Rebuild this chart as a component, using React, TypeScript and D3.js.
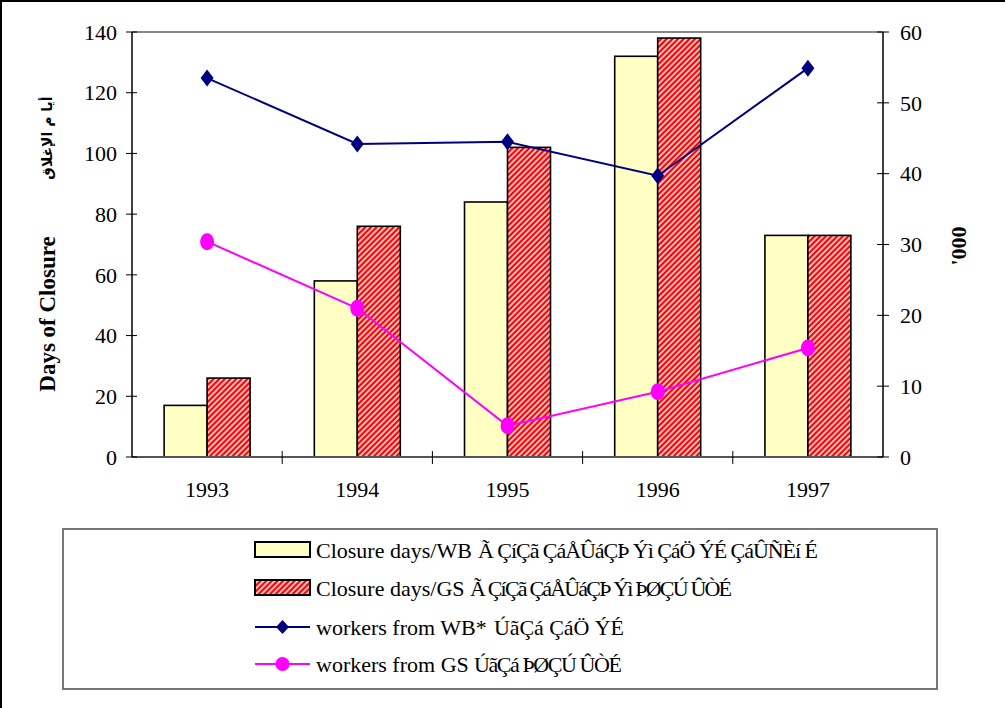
import React from "react";
import * as d3 from "d3";

const years = ["1993", "1994", "1995", "1996", "1997"];
const closureWB = [17, 58, 84, 132, 73];
const closureGS = [26, 76, 102, 138, 73];
const workersWB = [53.5, 44.2, 44.5, 39.7, 54.9];
const workersGS = [30.4, 21.0, 4.4, 9.2, 15.4];
const leftTicks = [0, 20, 40, 60, 80, 100, 120, 140];
const rightTicks = [0, 10, 20, 30, 40, 50, 60];

const legendEnglish = [
  "Closure days/WB",
  "Closure days/GS",
  "workers from WB*",
  "workers from GS",
];
const legendMojibake = [
  "Ã ÇíÇã ÇáÅÛáÇÞ Ýì  ÇáÖ ÝÉ ÇáÛÑÈí É",
  "Ã ÇíÇã ÇáÅÛáÇÞ Ýì  ÞØÇÚ ÛÒÉ",
  "ÚãÇá ÇáÖ ÝÉ",
  "ÚãÇá ÞØÇÚ ÛÒÉ",
];

const W = 1005;
const H = 708;
const L = 132;
const R = 883;
const T = 32;
const B = 457;
const serif = "'Liberation Serif', 'Times New Roman', serif";

export default function App() {
  const x = d3.scaleBand<string>().domain(years).range([L, R]);
  const x1 = d3
    .scaleBand<string>()
    .domain(["WB", "GS"])
    .range([0, x.bandwidth()])
    .paddingInner(0)
    .paddingOuter(0.747);
  const yL = d3.scaleLinear().domain([0, 140]).range([B, T]);
  const yR = d3.scaleLinear().domain([0, 60]).range([B, T]);
  const cx = (y: string) => (x(y) as number) + x.bandwidth() / 2;

  const lineGen = d3
    .line<number>()
    .x((_, i) => cx(years[i]))
    .y((d) => yR(d));

  const diamond = (px: number, py: number, w = 6.5, h = 8.5) =>
    `M${px},${py - h}L${px + w},${py}L${px},${py + h}L${px - w},${py}Z`;

  const legendRows = [550, 588, 627, 664];
  const mojX = [478, 470, 494, 474];
  const mojEnd = [818, 732, 624, 622];

  return (
    <div style={{ position: "absolute", left: 0, top: 0, width: W, height: H, overflow: "hidden", background: "#fff" }}>
      <svg width={W} height={H} style={{ display: "block" }}>
        <defs>
          <pattern id="hatch" patternUnits="userSpaceOnUse" width="4" height="4" patternTransform="rotate(45)">
            <rect x="0" y="0" width="4" height="4" fill="#FF0000" />
            <line x1="1" y1="-1" x2="1" y2="5" stroke="#FFFFFF" strokeWidth="1.5" />
          </pattern>
        </defs>
        <rect x={1} y={1} width={W + 10} height={H + 10} fill="#fff" stroke="#000" strokeWidth={2} />

        {/* plot top border */}
        <line x1={L} y1={T} x2={R} y2={T} stroke="#888" strokeWidth={2} />

        {/* bars */}
        {years.map((yr, i) => (
          <g key={yr}>
            <rect
              x={(x(yr) as number) + (x1("WB") as number)}
              y={yL(closureWB[i])}
              width={x1.bandwidth()}
              height={B - yL(closureWB[i])}
              fill="#FFFFC4"
              stroke="#000"
              strokeWidth={1.6}
            />
            <rect
              x={(x(yr) as number) + (x1("GS") as number)}
              y={yL(closureGS[i])}
              width={x1.bandwidth()}
              height={B - yL(closureGS[i])}
              fill="url(#hatch)"
              stroke="#000"
              strokeWidth={1.6}
            />
          </g>
        ))}

        {/* x axis */}
        <line x1={L} y1={B} x2={R} y2={B} stroke="#555" strokeWidth={2} />
        {years.slice(1).map((yr) => (
          <line key={yr} x1={x(yr) as number} y1={B - 6} x2={x(yr) as number} y2={B + 7} stroke="#000" strokeWidth={1} />
        ))}
        {years.map((yr) => (
          <text key={yr} x={cx(yr)} y={497} textAnchor="middle" fontFamily={serif} fontSize={22}>
            {yr}
          </text>
        ))}

        {/* left axis */}
        <line x1={L} y1={T} x2={L} y2={B} stroke="#000" strokeWidth={1.5} />
        {leftTicks.map((t) => (
          <g key={t}>
            <line x1={L - 6} y1={yL(t)} x2={L + 5} y2={yL(t)} stroke="#000" strokeWidth={1} />
            <text x={117} y={yL(t)} dy="0.35em" textAnchor="end" fontFamily={serif} fontSize={22}>
              {t}
            </text>
          </g>
        ))}

        {/* right axis */}
        <line x1={R} y1={T} x2={R} y2={B} stroke="#000" strokeWidth={1.5} />
        {rightTicks.map((t) => (
          <g key={t}>
            <line x1={R - 6} y1={yR(t)} x2={R + 6} y2={yR(t)} stroke="#000" strokeWidth={1} />
            <text x={900} y={yR(t)} dy="0.35em" textAnchor="start" fontFamily={serif} fontSize={22}>
              {t}
            </text>
          </g>
        ))}

        {/* axis titles */}
        <text
          transform={`translate(47,314) rotate(-90)`}
          textAnchor="middle"
          dominantBaseline="central"
          fontFamily={serif}
          fontWeight="bold"
          fontSize={23}
        >
          Days of Closure
        </text>
        <text
          transform={`translate(47,138) rotate(-90)`}
          textAnchor="middle"
          dominantBaseline="central"
          fontFamily="'DejaVu Sans', sans-serif"
          fontWeight="bold"
          fontSize={14}
        >
          أيا م الإغلاق
        </text>
        <text
          transform={`translate(958,246) rotate(-90)`}
          textAnchor="middle"
          dominantBaseline="central"
          fontFamily={serif}
          fontWeight="bold"
          fontSize={22}
        >
          '000
        </text>

        {/* lines */}
        <path d={lineGen(workersWB) || ""} fill="none" stroke="#000080" strokeWidth={2} />
        {workersWB.map((v, i) => (
          <path key={i} d={diamond(cx(years[i]), yR(v))} fill="#000080" />
        ))}
        <path d={lineGen(workersGS) || ""} fill="none" stroke="#FF00FF" strokeWidth={2} />
        {workersGS.map((v, i) => (
          <ellipse key={i} cx={cx(years[i])} cy={yR(v)} rx={7} ry={8.5} fill="#FF00FF" />
        ))}

        {/* legend */}
        <rect x={63} y={529} width={874} height={160} fill="#fff" stroke="#777" strokeWidth={2} />
        <rect x={255} y={542} width={55} height={15} fill="#FFFFC4" stroke="#000" strokeWidth={2} />
        <rect x={255} y={580} width={55} height={15} fill="url(#hatch)" stroke="#000" strokeWidth={2} />
        <line x1={255} y1={627} x2={310} y2={627} stroke="#000080" strokeWidth={2} />
        <path d={diamond(282.5, 627, 6.5, 7)} fill="#000080" />
        <line x1={255} y1={664} x2={310} y2={664} stroke="#FF00FF" strokeWidth={2} />
        <circle cx={282.5} cy={664} r={7} fill="#FF00FF" />
        {legendEnglish.map((t, i) => (
          <g key={i}>
            <text x={316} y={legendRows[i] + 7.5} fontFamily={serif} fontSize={22}>
              {t}
            </text>
            <text
              x={mojX[i]}
              y={legendRows[i] + 7.5}
              fontFamily={serif}
              fontSize={22}
              textLength={mojEnd[i] - mojX[i]}
              lengthAdjust="spacing"
              direction="ltr"
              style={{ unicodeBidi: "bidi-override" }}
            >
              {legendMojibake[i]}
            </text>
          </g>
        ))}
      </svg>
    </div>
  );
}
